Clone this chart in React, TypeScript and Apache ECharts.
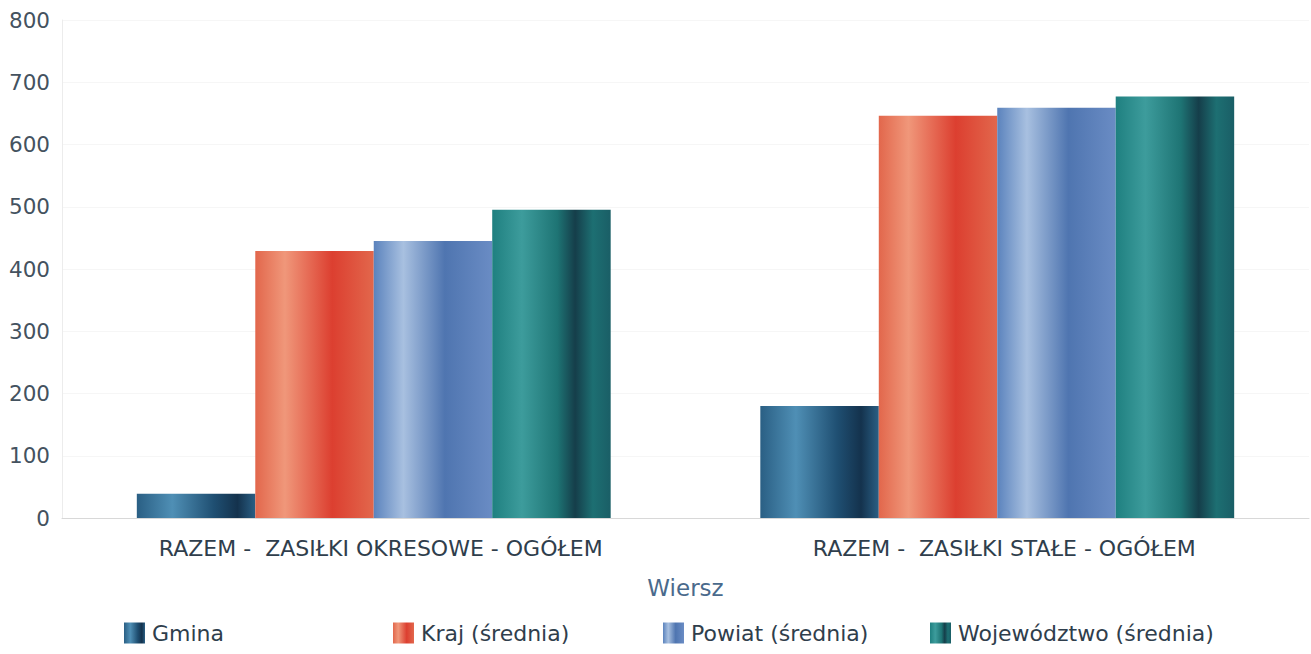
import React, { useEffect, useRef } from "react";
import * as echarts from "echarts";

const categories = ["RAZEM -  ZASIŁKI OKRESOWE - OGÓŁEM", "RAZEM -  ZASIŁKI STAŁE - OGÓŁEM"];
const seriesNames = ["Gmina", "Kraj (średnia)", "Powiat (średnia)", "Województwo (średnia)"];
const gmina = [39, 180];
const kraj = [429, 646];
const powiat = [445, 659];
const wojewodztwo = [495, 677];
const yTicks = { min: 0, max: 800, interval: 100 };

const FONT = "DejaVu Sans";

function grad(stops: [number, string][]) {
  return new echarts.graphic.LinearGradient(
    0, 0, 1, 0,
    stops.map(([offset, color]) => ({ offset, color }))
  );
}

const palettes = [
  grad([[0, "#2a5f84"], [0.3, "#4f8fb5"], [0.65, "#1f4f72"], [0.85, "#14324d"], [1, "#2a5f84"]]),
  grad([[0, "#e2674c"], [0.25, "#f0977a"], [0.65, "#dc3f30"], [1, "#e2674c"]]),
  grad([[0, "#5b83bd"], [0.25, "#a8c0e0"], [0.6, "#4f75b0"], [1, "#6a8cc4"]]),
  grad([[0, "#1f8080"], [0.25, "#3d9c9c"], [0.55, "#1e7474"], [0.7, "#153e4a"], [0.85, "#1d6f72"], [1, "#1a5e66"]]),
];

export default function App() {
  const ref = useRef<HTMLDivElement>(null);
  useEffect(() => {
    if (!ref.current) return;
    const chart = echarts.init(ref.current, undefined, { renderer: "svg" });
    const data = [gmina, kraj, powiat, wojewodztwo];
    const legendLefts = [119, 388, 658, 925];
    chart.setOption({
      animation: false,
      textStyle: { fontFamily: FONT },
      grid: { left: 62, right: 2, top: 20, bottom: 136, containLabel: false },
      legend: seriesNames.map((n, i) => ({
        data: [{ name: n, icon: "rect" }],
        left: legendLefts[i],
        top: 617,
        itemWidth: 21,
        itemHeight: 21,
        itemGap: 8,
        textStyle: { fontFamily: FONT, fontSize: 22, color: "#2f3e4c", padding: [0, 0, 0, 2] },
      })),
      xAxis: {
        type: "category",
        data: categories,
        name: "Wiersz",
        nameLocation: "middle",
        nameGap: 58,
        nameTextStyle: { fontFamily: FONT, fontSize: 23, color: "#4a6a8c" },
        axisLine: { show: true, lineStyle: { color: "#d8d8d8" } },
        axisTick: { show: false },
        axisLabel: { fontFamily: FONT, fontSize: 22, color: "#2f3e4c", margin: 19, padding: [0, 0, 0, 14] },
      },
      yAxis: {
        type: "value",
        min: yTicks.min,
        max: yTicks.max,
        interval: yTicks.interval,
        axisLine: { show: true, lineStyle: { color: "#ececec" } },
        axisTick: { show: false },
        splitLine: { show: true, lineStyle: { color: "#f6f6f6" } },
        axisLabel: { fontFamily: FONT, fontSize: 21.5, color: "#44525f", margin: 12 },
      },
      series: seriesNames.map((n, i) => ({
        name: n,
        type: "bar",
        data: data[i],
        barGap: "0%",
        barCategoryGap: "24%",
        itemStyle: { color: palettes[i] },
      })),
    });
    return () => chart.dispose();
  }, []);
  return (
    <div
      ref={ref}
      style={{ position: "absolute", left: 0, top: 0, width: 1311, height: 654 }}
    />
  );
}
